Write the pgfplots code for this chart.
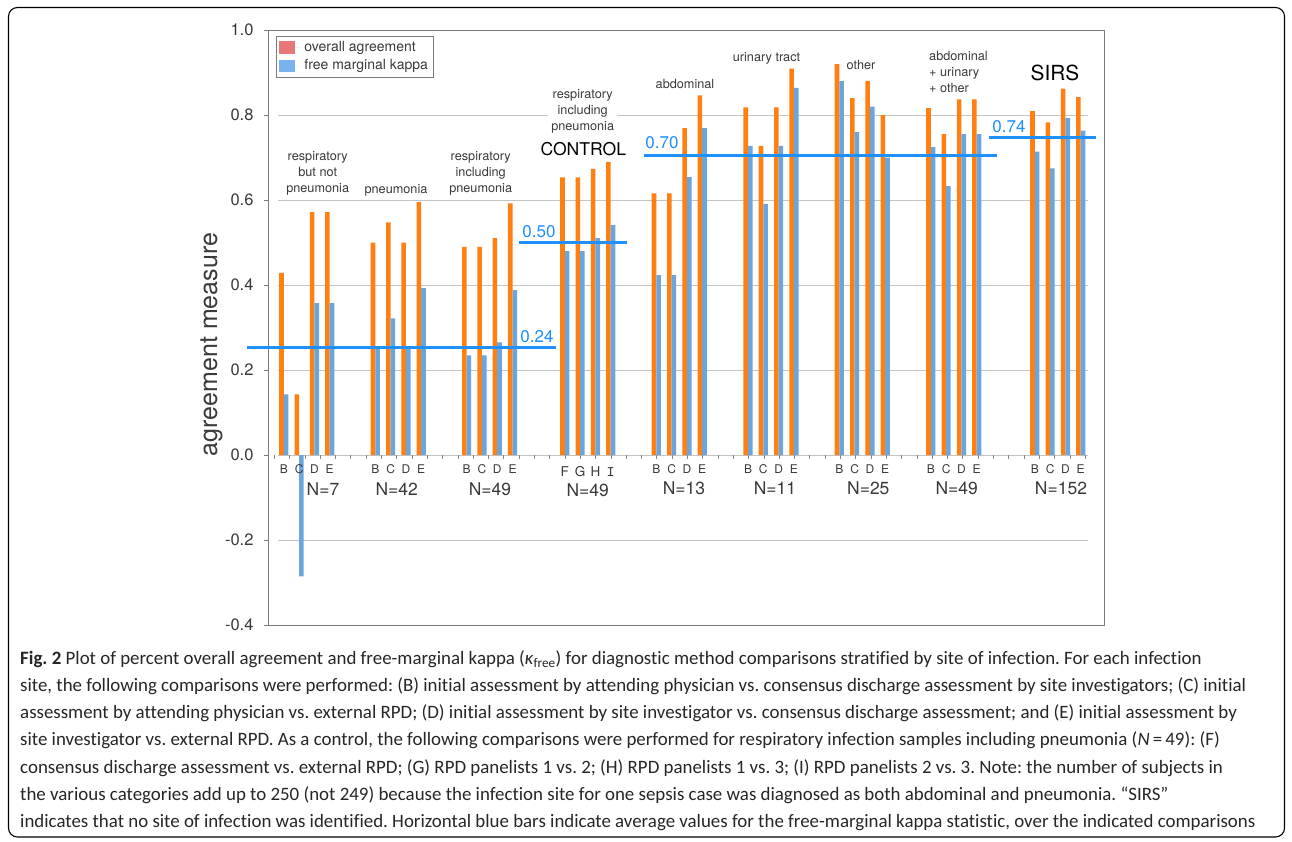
\documentclass[border=0pt]{standalone}
\usepackage{pgfplots}
\pgfplotsset{compat=1.18}
\usepackage{fontspec}
\setmainfont{TeX Gyre Heros}
\newfontfamily\capfont[Ligatures=NoCommon]{Carlito}
\newfontfamily\monofont{Liberation Mono}
\definecolor{barorange}{HTML}{FF7F11}
\definecolor{barblue}{HTML}{6BA5DE}
\definecolor{legred}{HTML}{E87777}
\definecolor{legblue}{HTML}{7AB2EE}
\definecolor{avgblue}{HTML}{1E90FF}
\definecolor{gridgray}{HTML}{C4C4C4}
\definecolor{framegray}{HTML}{7A7A7A}
\definecolor{txt}{HTML}{3A3A3A}
\frenchspacing
\begin{document}
\begin{tikzpicture}[x=1pt,y=1pt]
\useasboundingbox (0,0) rectangle (1292,-841);
\fill[white] (0,0) rectangle (1292,-841);
\draw[black, line width=1.1pt, rounded corners=9pt] (8.5,-7.5) rectangle (1284.5,-837);
% grid lines
\foreach \yy in {115,200,285,370,455,540} \draw[gridgray, line width=0.9pt] (278,-\yy) -- (1088,-\yy);
% small ticks along the zero line
\foreach \k in {0,...,53} \draw[gridgray!70!black, line width=0.6pt] ({274.2+15.3*\k},-455) -- ++(0,-4);
\begin{axis}[
  at={(268pt,-625pt)}, anchor=south west,
  width=836pt, height=595pt, scale only axis,
  xmin=268, xmax=1104, ymin=-0.4, ymax=1.0,
  clip=false,
  axis line style={draw=framegray, line width=1pt},
  xtick=\empty,
  ytick={-0.4,-0.2,0,0.2,0.4,0.6,0.8,1.0},
  yticklabels={-0.4,-0.2,0.0,0.2,0.4,0.6,0.8,1.0},
  ytick pos=left,
  tick align=outside,
  major tick length=4pt,
  every tick/.style={draw=framegray, line width=0.8pt},
  yticklabel style={font=\fontsize{16.5}{18}\selectfont, text=txt, xshift=-7pt},
  legend style={at={(axis cs:276,0.9866)}, anchor=north west, draw=framegray, line width=0.9pt,
    fill=white, inner xsep=3pt, inner ysep=3pt, font=\fontsize{14}{16}\selectfont, text=txt,
    cells={anchor=west}, row sep=1.5pt,
    nodes={inner sep=2pt, text height=10pt, text depth=3pt}},
  legend image code/.code={\path[#1] (0pt,-6.3pt) rectangle (15.5pt,6.3pt); \path (0pt,0pt) -- (23pt,0pt);},
]
\addlegendimage{fill=legred, draw=none}
\addlegendimage{fill=legblue, draw=none}
\legend{overall agreement, free marginal kappa}
% overall agreement
\addplot[ybar, bar width=4.6, bar shift=0pt, fill=barorange, draw=none] coordinates {
 (281.5,0.4286) (296.8,0.1429) (312.1,0.5714) (327.4,0.5714)
 (373.0,0.5000) (388.3,0.5476) (403.6,0.5000) (418.9,0.5952)
 (464.3,0.4898) (479.6,0.4898) (494.9,0.5102) (510.2,0.5918)
 (562.5,0.6531) (577.8,0.6531) (593.1,0.6735) (608.4,0.6900)
 (654.0,0.6154) (669.3,0.6154) (684.6,0.7692) (699.9,0.8462)
 (745.7,0.8182) (761.0,0.7273) (776.3,0.8182) (791.6,0.9091)
 (837.0,0.9200) (852.3,0.8400) (867.6,0.8800) (882.9,0.8000)
 (928.5,0.8163) (943.8,0.7551) (959.1,0.8367) (974.4,0.8367)
 (1032.5,0.8092) (1047.8,0.7829) (1063.1,0.8618) (1078.4,0.8421)
};
% free marginal kappa
\addplot[ybar, bar width=4.6, bar shift=0pt, fill=barblue, draw=none] coordinates {
 (286.1,0.1429) (301.4,-0.2857) (316.7,0.3571) (332.0,0.3571)
 (377.6,0.2500) (392.9,0.3214) (408.2,0.2500) (423.5,0.3929)
 (468.9,0.2347) (484.2,0.2347) (499.5,0.2653) (514.8,0.3878)
 (567.1,0.4796) (582.4,0.4796) (597.7,0.5102) (613.0,0.5408)
 (658.6,0.4231) (673.9,0.4231) (689.2,0.6538) (704.5,0.7692)
 (750.3,0.7273) (765.6,0.5909) (780.9,0.7273) (796.2,0.8636)
 (841.6,0.8800) (856.9,0.7600) (872.2,0.8200) (887.5,0.7000)
 (933.1,0.7245) (948.4,0.6327) (963.7,0.7551) (979.0,0.7551)
 (1037.1,0.7138) (1052.4,0.6743) (1067.7,0.7928) (1083.0,0.7632)
};
% average kappa lines
\addplot[avgblue, line width=3pt] coordinates {(247,0.2525) (556,0.2525)};
\addplot[avgblue, line width=3pt] coordinates {(519,0.5005) (627,0.5005)};
\addplot[avgblue, line width=3pt] coordinates {(644,0.705) (997,0.705)};
\addplot[avgblue, line width=3pt] coordinates {(989,0.7475) (1096,0.7475)};
\end{axis}
% labels of average lines
\begin{scope}[every node/.style={font=\fontsize{17}{19}\selectfont, text=avgblue, inner sep=0pt}]
\node at (537,-337) {0.24};
\node at (539,-231.7) {0.50};
\node at (662,-142.7) {0.70};
\node at (1009,-126.7) {0.74};
\end{scope}
% group labels
\begin{scope}[every node/.style={font=\fontsize{12.7}{16}\selectfont, text=txt, align=center, inner sep=0pt}]
\node at (317.7,-173.3) {respiratory\\but not\\pneumonia};
\node at (396,-190.7) {pneumonia};
\node at (480.7,-173.7) {respiratory\\including\\pneumonia};
\node[fill=white, inner sep=3pt] at (582.7,-111.7) {respiratory\\including\\pneumonia};
\node at (685,-84) {abdominal};
\node at (766.5,-58) {urinary tract};
\node at (861,-65) {other};
\node[align=left, anchor=west] at (929,-72.3) {abdominal\\+ urinary\\+ other};
\end{scope}
\node[font=\fontsize{17.6}{19}\selectfont, inner sep=0pt] at (583.3,-149.3) {CONTROL};
\node[font=\fontsize{20.8}{22}\selectfont, inner sep=0pt] at (1055,-72.7) {SIRS};
% comparison letters
\begin{scope}[every node/.style={font=\fontsize{12}{14}\selectfont, text=txt, inner sep=0pt}]
\foreach \xx in {281.5,373.0,464.3,654.0,745.7,837.0,928.5,1032.5} {
  \node at (\xx+2.3,-469) {B};
  \node at (\xx+17.6,-469) {C};
  \node at (\xx+32.9,-469) {D};
  \node at (\xx+48.2,-469) {E};
}
\end{scope}
\begin{scope}[every node/.style={font=\fontsize{13.5}{15}\selectfont, text=txt, inner sep=0pt}]
\node at (564.8,-471.7) {F};
\node at (580.1,-471.7) {G};
\node at (595.4,-471.7) {H};
\node at (610.7,-471.7) {\monofont I};
\end{scope}
% N labels
\begin{scope}[every node/.style={font=\fontsize{17.5}{19}\selectfont, text=txt, inner sep=0pt}]
\node at (323,-489.5) {N=7};
\node at (396.7,-489.5) {N=42};
\node at (490,-489.5) {N=49};
\node at (587.7,-490.5) {N=49};
\node at (684,-488.5) {N=13};
\node at (775,-488.5) {N=11};
\node at (868.3,-488.5) {N=25};
\node at (956.7,-488.5) {N=49};
\node at (1061,-488.5) {N=152};
\end{scope}
% y axis label
\node[rotate=90, anchor=base, font=\fontsize{25}{27}\selectfont, text=txt, inner sep=0pt] at (217,-344.5) {agreement measure};
% caption
\begin{scope}[every node/.style={anchor=base west, inner sep=0pt, font=\capfont\fontsize{18.9}{22}\selectfont, text=black!85}]
\node at (20,-664) {\textbf{Fig. 2} Plot of percent overall agreement and free-marginal kappa ({\itshape κ}\textsubscript{free}) for diagnostic method comparisons stratified by site of infection. For each infection};
\node at (20,-691.3) {site, the following comparisons were performed: (B) initial assessment by attending physician vs. consensus discharge assessment by site investigators; (C) initial};
\node at (20,-718.6) {assessment by attending physician vs. external RPD; (D) initial assessment by site investigator vs. consensus discharge assessment; and (E) initial assessment by};
\node at (20,-745.9) {site investigator vs. external RPD. As a control, the following comparisons were performed for respiratory infection samples including pneumonia ({\itshape N}\,=\,49): (F)};
\node at (20,-773.2) {consensus discharge assessment vs. external RPD; (G) RPD panelists 1 vs. 2; (H) RPD panelists 1 vs. 3; (I) RPD panelists 2 vs. 3. Note: the number of subjects in};
\node at (20,-800.5) {the various categories add up to 250 (not 249) because the infection site for one sepsis case was diagnosed as both abdominal and pneumonia. “SIRS”};
\node at (20,-827.8) {indicates that no site of infection was identified. Horizontal blue bars indicate average values for the free-marginal kappa statistic, over the indicated comparisons};
\end{scope}
\end{tikzpicture}
\end{document}
